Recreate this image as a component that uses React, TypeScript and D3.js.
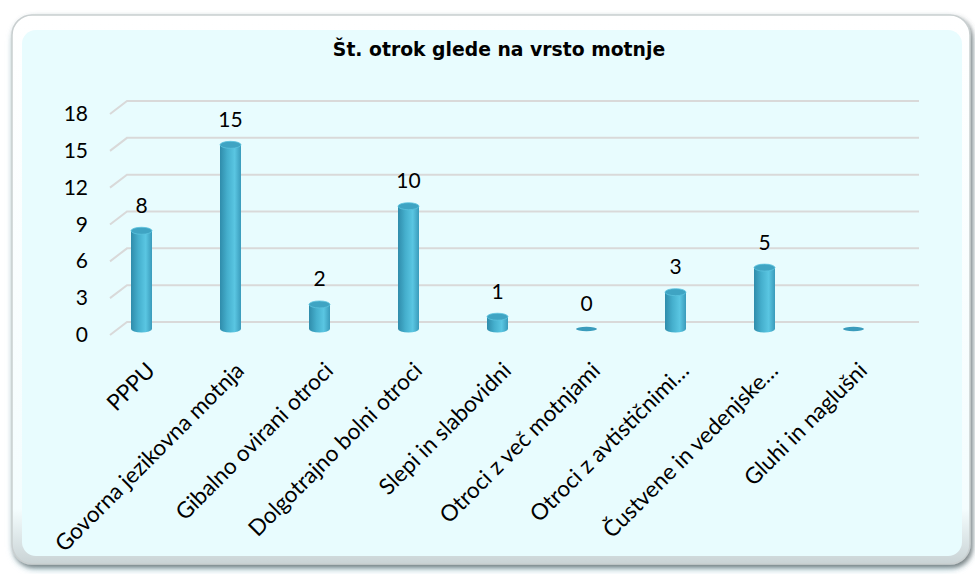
import * as d3 from "d3";
import { useEffect, useRef } from "react";

const title = "Št. otrok glede na vrsto motnje";
const categories = [
  "PPPU",
  "Govorna jezikovna motnja",
  "Gibalno ovirani otroci",
  "Dolgotrajno bolni otroci",
  "Slepi in slabovidni",
  "Otroci z več motnjami",
  "Otroci z avtističnimi…",
  "Čustvene in vedenjske…",
  "Gluhi in naglušni",
];
// null = no data label shown in the source
const values: (number | null)[] = [8, 15, 2, 10, 1, 0, 3, 5, null];
const yTicks = [0, 3, 6, 9, 12, 15, 18];

const W = 975;
const H = 574;

export default function App() {
  const svgRef = useRef<SVGSVGElement>(null);

  useEffect(() => {
    const svg = d3.select(svgRef.current);
    svg.selectAll("*").remove();
    svg.attr("viewBox", `0 0 ${W} ${H}`);

    const defs = svg.append("defs");

    // frame bevel
    const bevel = defs
      .append("linearGradient")
      .attr("id", "bevel")
      .attr("x1", 0)
      .attr("y1", 0)
      .attr("x2", 0)
      .attr("y2", 1);
    bevel.append("stop").attr("offset", "0%").attr("stop-color", "#ffffff");
    bevel.append("stop").attr("offset", "90%").attr("stop-color", "#f4fdfe");
    bevel.append("stop").attr("offset", "100%").attr("stop-color", "#c9d3d5");

    const shadow = defs.append("filter").attr("id", "shadow").attr("x", "-5%").attr("y", "-5%").attr("width", "110%").attr("height", "110%");
    shadow
      .append("feDropShadow")
      .attr("dx", 2)
      .attr("dy", 3)
      .attr("stdDeviation", 2.5)
      .attr("flood-color", "#555")
      .attr("flood-opacity", 0.7);

    const soft = defs.append("filter").attr("id", "soft");
    soft.append("feGaussianBlur").attr("stdDeviation", 4);

    // cylinder body
    const cyl = defs
      .append("linearGradient")
      .attr("id", "cyl")
      .attr("x1", 0)
      .attr("y1", 0)
      .attr("x2", 1)
      .attr("y2", 0);
    cyl.append("stop").attr("offset", "0%").attr("stop-color", "#2f8cab");
    cyl.append("stop").attr("offset", "35%").attr("stop-color", "#45afcd");
    cyl.append("stop").attr("offset", "70%").attr("stop-color", "#5ac6e2");
    cyl.append("stop").attr("offset", "100%").attr("stop-color", "#3a9bbb");

    // frame
    svg
      .append("rect")
      .attr("x", 14)
      .attr("y", 20)
      .attr("width", 956)
      .attr("height", 548)
      .attr("rx", 22)
      .attr("fill", "#7fc9dc")
      .attr("filter", "url(#soft)")
      .attr("opacity", 0.6);
    svg
      .append("rect")
      .attr("x", 12)
      .attr("y", 15)
      .attr("width", 958)
      .attr("height", 549)
      .attr("rx", 20)
      .attr("fill", "url(#bevel)")
      .attr("stroke", "#c9cfd0")
      .attr("stroke-width", 1.5)
      .attr("filter", "url(#shadow)");
    svg
      .append("rect")
      .attr("x", 22)
      .attr("y", 30)
      .attr("width", 940)
      .attr("height", 526)
      .attr("rx", 14)
      .attr("fill", "#e8fcfe");

    // title
    svg
      .append("text")
      .attr("x", 499)
      .attr("y", 56)
      .attr("text-anchor", "middle")
      .attr("font-family", "'DejaVu Sans', Verdana, sans-serif")
      .attr("font-weight", "bold")
      .attr("font-size", 18.8)
      .attr("fill", "#000")
      .text(title);

    // back wall gridlines
    const depthX = 17;
    const depthY = 13;
    const yGrid = d3.scaleLinear().domain([0, 18]).range([322, 101]);
    const gridLeft = 127;
    const gridRight = 919;

    const grid = svg.append("g");
    yTicks.forEach((t) => {
      const y = yGrid(t);
      grid
        .append("path")
        .attr("d", `M${gridLeft - depthX},${y + depthY}L${gridLeft},${y}L${gridRight},${y}`)
        .attr("fill", "none")
        .attr("stroke", "#d9d9d9")
        .attr("stroke-width", 2);
    });

    const labelFont = "Lato, 'Open Sans', sans-serif";

    // y tick labels
    svg
      .append("g")
      .selectAll("text")
      .data(yTicks)
      .join("text")
      .attr("x", 88)
      .attr("y", (d) => yGrid(d) + depthY + 7)
      .attr("text-anchor", "end")
      .attr("font-family", labelFont)
      .attr("font-size", 21)
      .attr("fill", "#000")
      .text((d) => d);

    // bars
    const x = d3.scaleBand<string>().domain(categories).range([97, 898]);
    const yBar = d3.scaleLinear().domain([0, 18]).range([329, 108]);
    const bw = 21;
    const ry = 3.5;

    const bars = svg.append("g");
    categories.forEach((c, i) => {
      const v = values[i] ?? 0;
      const cx = x(c)! + x.bandwidth() / 2;
      const x0 = cx - bw / 2;
      const x1 = cx + bw / 2;
      const yb = yBar(0);
      const yt = yBar(v);
      if (v > 0) {
        bars
          .append("path")
          .attr(
            "d",
            `M${x0},${yt}L${x0},${yb}A${bw / 2},${ry} 0 0 0 ${x1},${yb}L${x1},${yt}Z`
          )
          .attr("fill", "url(#cyl)");
        bars
          .append("ellipse")
          .attr("cx", cx)
          .attr("cy", yt)
          .attr("rx", bw / 2)
          .attr("ry", ry)
          .attr("fill", "#3fa4c3")
          .attr("stroke", "#5cc3de")
          .attr("stroke-width", 0.8);
      } else {
        bars
          .append("ellipse")
          .attr("cx", cx)
          .attr("cy", yb)
          .attr("rx", bw / 2)
          .attr("ry", 2.2)
          .attr("fill", "#3a9cbc");
      }

      if (values[i] !== null) {
        bars
          .append("text")
          .attr("x", cx)
          .attr("y", yt - 18)
          .attr("text-anchor", "middle")
          .attr("font-family", labelFont)
          .attr("font-size", 21)
          .attr("fill", "#000")
          .text(String(values[i]));
      }

      // category label
      const px = cx + 15;
      const py = 372;
      bars
        .append("text")
        .attr("transform", `translate(${px},${py}) rotate(-45)`)
        .attr("text-anchor", "end")
        .attr("font-family", labelFont)
        .attr("font-size", 22.5)
        .attr("fill", "#000")
        .text(c);
    });
  }, []);

  return (
    <>
      <style>{`body{margin:0}`}</style>
      <svg ref={svgRef} width={W} height={H} style={{ display: "block" }} />
    </>
  );
}
